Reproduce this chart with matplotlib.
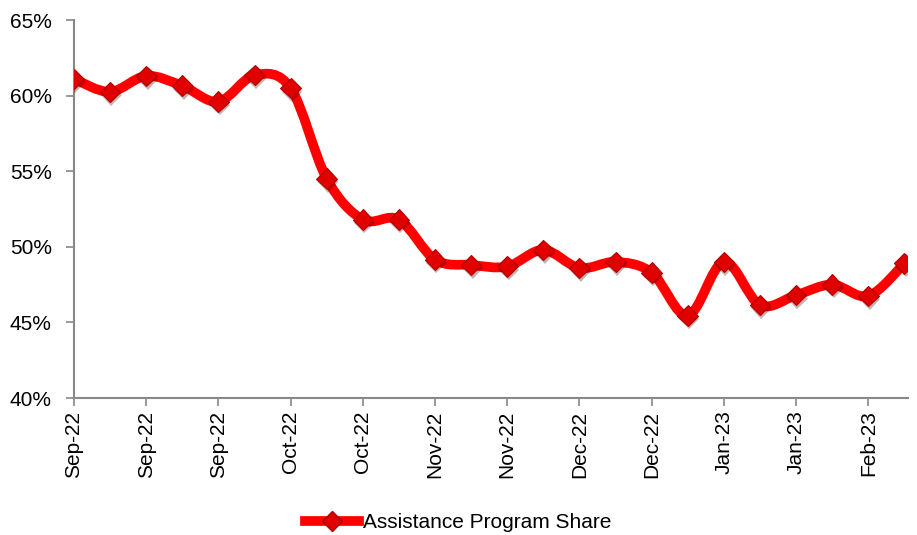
import matplotlib
matplotlib.use("Agg")
import matplotlib.pyplot as plt
from matplotlib.path import Path
from matplotlib.patches import PathPatch
from matplotlib.lines import Line2D
import matplotlib.patheffects as pe
import numpy as np

# weekly values, Sep-2022 .. Feb-2023 (percent)
share = [61.1, 60.25, 61.3, 60.65, 59.6, 61.35, 60.5, 54.5, 51.8, 51.8,
         49.15, 48.8, 48.7, 49.8, 48.6, 49.0, 48.3, 45.45, 49.0, 46.15,
         46.8, 47.5, 46.75, 48.9]
tick_labels = ["Sep-22", "Sep-22", "Sep-22", "Oct-22", "Oct-22", "Nov-22",
               "Nov-22", "Dec-22", "Dec-22", "Jan-23", "Jan-23", "Feb-23"]
y_ticks = [40, 45, 50, 55, 60, 65]
series_name = "Assistance Program Share"

plt.rcParams['font.family'] = ['Liberation Sans', 'DejaVu Sans']

fig = plt.figure(figsize=(9.17, 5.35), dpi=100)
ax = fig.add_axes([74 / 917, 1 - 398 / 535, (908 - 74) / 917, (398 - 20) / 535])

x = np.arange(len(share))
y = np.array(share)

# smoothed line (excel style bezier through the points)
verts = [(x[0], y[0])]
codes = [Path.MOVETO]
n = len(x)
for i in range(n - 1):
    p0 = np.array([x[max(i - 1, 0)], y[max(i - 1, 0)]])
    p1 = np.array([x[i], y[i]])
    p2 = np.array([x[i + 1], y[i + 1]])
    p3 = np.array([x[min(i + 2, n - 1)], y[min(i + 2, n - 1)]])
    c1 = p1 + (p2 - p0) / 6
    c2 = p2 - (p3 - p1) / 6
    verts += [tuple(c1), tuple(c2), tuple(p2)]
    codes += [Path.CURVE4] * 3
curve = PathPatch(Path(verts, codes), facecolor='none', edgecolor='#ff0000',
                  lw=7, capstyle='round', joinstyle='round', zorder=2)
ax.add_patch(curve)

ax.plot(x, y, linestyle='none', marker='D', markersize=10.5,
        markerfacecolor='#e00000', markeredgecolor='#b00000', markeredgewidth=0.8,
        zorder=3,
        path_effects=[pe.SimplePatchShadow(offset=(1, -2.5), alpha=0.3), pe.Normal()])

ax.set_xlim(0, 23.1)
ax.set_ylim(40, 65)
ax.set_yticks(y_ticks)
ax.set_yticklabels([f"{v}%" for v in y_ticks], fontsize=15)
ax.set_xticks(x[::2])
ax.set_xticklabels(tick_labels, rotation=90, fontsize=15)

for s in ['top', 'right']:
    ax.spines[s].set_visible(False)
for s in ['left', 'bottom']:
    ax.spines[s].set_color('#888888')
    ax.spines[s].set_linewidth(1.5)
ax.tick_params(axis='both', colors='#888888', length=6, width=1.2, labelcolor='black')
ax.tick_params(axis='y', pad=10)
ax.tick_params(axis='x', pad=3)

handle = Line2D([], [], color='#ff0000', lw=7, marker='D', markersize=10.5,
                markerfacecolor='#e00000', markeredgecolor='#b00000')
fig.legend([handle], [series_name], loc='center', bbox_to_anchor=(0.5, 1 - 523 / 535),
           frameon=False, fontsize=15, handlelength=2.6, handletextpad=0.2)

fig.savefig("out.png", dpi=100)
